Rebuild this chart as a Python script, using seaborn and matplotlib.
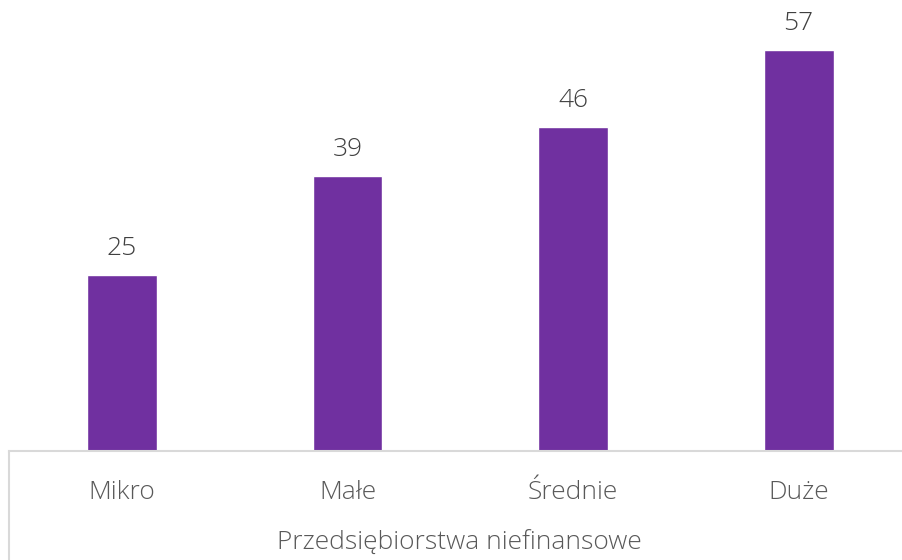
import pandas as pd
import matplotlib.pyplot as plt
import seaborn as sns

# Dane
kategorie = ["Mikro", "Małe", "Średnie", "Duże"]
wartosci = [25, 39, 46, 57]
tytul_osi = "Przedsiębiorstwa niefinansowe"

df = pd.DataFrame({"kategoria": kategorie, "wartosc": wartosci})

sns.set_style("white")
plt.rcParams["font.family"] = ["Open Sans", "DejaVu Sans"]

fig = plt.figure(figsize=(9.03, 5.6), dpi=100)
# osie: dół na wysokości linii bazowej (451 px od góry)
ax = fig.add_axes([9.25 / 903, 109 / 560, 1 - 9.25 / 903, 451 / 560])

sns.barplot(data=df, x="kategoria", y="wartosc", color="#7030A0",
            saturation=1, width=0.31, ax=ax)

ax.set_xlim(-0.5, 3.463)
ax.set_ylim(0, 64.06)

# etykiety wartości
for i, v in enumerate(wartosci):
    ax.text(i, v + 2.0, str(v), ha="center", va="bottom",
            fontsize=19, color="#404040", fontweight="light")

ax.set_yticks([])
ax.set_ylabel("")
ax.set_xlabel("")
ax.set_xticks(range(len(kategorie)))
ax.set_xticklabels(kategorie, fontsize=19, color="#595959", fontweight="light")
ax.tick_params(axis="x", length=0, pad=21)

for s in ["top", "right", "left"]:
    ax.spines[s].set_visible(False)
ax.spines["bottom"].set_color("#D9D9D9")
ax.spines["bottom"].set_linewidth(1.5)

# pionowa linia pod osią (jak w tabeli kategorii Excela)
ax.plot([0, 0], [0, -109 / 451], transform=ax.transAxes, clip_on=False,
        color="#D9D9D9", lw=1.5)

fig.text(459 / 903, (560 - 543) / 560, tytul_osi, ha="center",
         va="center", fontsize=19, color="#595959", fontweight="light")

plt.savefig("out.png", dpi=100)
